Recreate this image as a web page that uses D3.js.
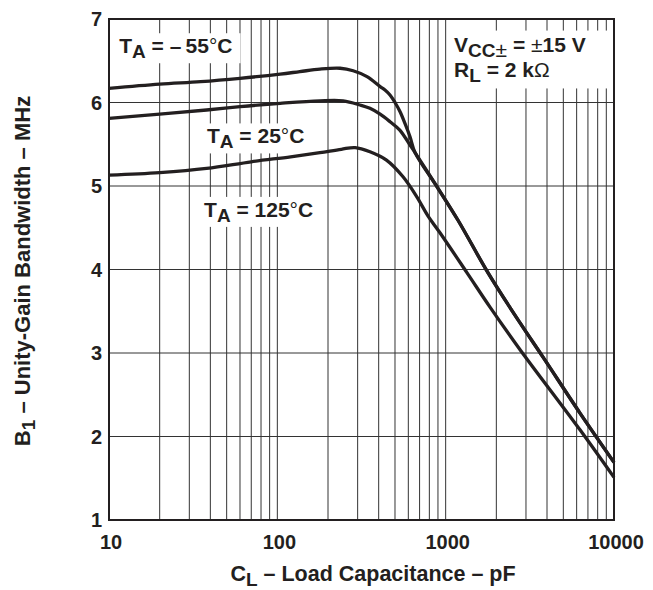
<!DOCTYPE html>
<html>
<head>
<meta charset="utf-8">
<script src="https://cdn.jsdelivr.net/npm/d3@7"></script>
<style>
  body { margin: 0; background: #fff; }
  text { font-family: "Liberation Sans", Arial, sans-serif; font-weight: bold; fill: #231f20; }
</style>
</head>
<body>
<script>
'use strict';

// load capacitance (pF) and unity-gain bandwidth (MHz)
const capM55 = [10, 20, 35, 60, 104, 136, 179, 236, 282, 341, 408, 436, 467, 500, 536, 573, 614, 658, 889, 1184, 1786, 2767, 3788, 6280, 10000];
const bwM55  = [6.17, 6.22, 6.25, 6.29, 6.34, 6.37, 6.40, 6.41, 6.38, 6.31, 6.19, 6.15, 6.09, 6.00, 5.89, 5.75, 5.59, 5.40, 4.99, 4.59, 3.96, 3.36, 2.95, 2.28, 1.69];

const cap25 = [10, 20, 38, 60, 104, 179, 246, 310, 355, 408, 467, 534, 614, 658, 889, 1184, 1786, 2767, 3788, 6280, 10000];
const bw25  = [5.81, 5.86, 5.91, 5.95, 5.99, 6.02, 6.02, 5.97, 5.93, 5.86, 5.77, 5.67, 5.49, 5.40, 4.99, 4.59, 3.96, 3.36, 2.95, 2.28, 1.69];

const cap125 = [10, 20, 38, 70, 120, 179, 240, 290, 355, 445, 558, 674, 786, 925, 1340, 1834, 2767, 6280, 10000];
const bw125  = [5.13, 5.16, 5.21, 5.29, 5.35, 5.40, 5.44, 5.46, 5.41, 5.31, 5.11, 4.87, 4.64, 4.44, 3.96, 3.55, 3.04, 2.08, 1.51];

const xTicks = [10, 100, 1000, 10000];
const yTicks = [1, 2, 3, 4, 5, 6, 7];

const width = 653, height = 590;
const margin = {top: 19, right: 39, bottom: 70, left: 109};
const ink = "#231f20";

let svg = d3.select("body").append("svg")
    .attr("width", width)
    .attr("height", height);

let x = d3.scaleLog()
    .domain([10, 10000])
    .range([margin.left, width - margin.right]);

let y = d3.scaleLinear()
    .domain([1, 7])
    .range([height - margin.bottom, margin.top]);

// grid
let grid = svg.append("g").attr("stroke", "#333").attr("stroke-width", 1);
grid.selectAll("line.v")
    .data(x.ticks().filter(d => d > 10 && d < 10000))
    .enter().append("line")
      .attr("x1", d => x(d)).attr("x2", d => x(d))
      .attr("y1", y(1)).attr("y2", y(7));
grid.selectAll("line.h")
    .data(yTicks.slice(1, -1))
    .enter().append("line")
      .attr("x1", x(10)).attr("x2", x(10000))
      .attr("y1", d => y(d)).attr("y2", d => y(d));

let boxes = svg.append("g");
let labels = svg.append("g").attr("font-size", 21);

// label at (pF, MHz), built from styled pieces
function addLabel(px, mhz, parts) {
    let t = labels.append("text").attr("x", x(px)).attr("y", y(mhz));
    parts.forEach(p => {
        let s = t.append("tspan").text(p.t);
        if (p.sub) s.attr("dy", 5).attr("font-size", 19);
        if (p.up) s.attr("dy", -5);
        if (p.normal) s.attr("font-weight", "normal");
    });
    return t;
}

let l55 = addLabel(11.5, 6.59, [{t: "T"}, {t: "A", sub: true}, {t: " = \u2013\u200955", up: true}, {t: "\u00b0", normal: true}, {t: "C"}]);
let l25 = addLabel(38.2, 5.51, [{t: "T"}, {t: "A", sub: true}, {t: " = 25", up: true}, {t: "\u00b0", normal: true}, {t: "C"}]);
let l125 = addLabel(36.7, 4.63, [{t: "T"}, {t: "A", sub: true}, {t: " = 125", up: true}, {t: "\u00b0", normal: true}, {t: "C"}]);
let lv = addLabel(1122, 6.61, [{t: "V"}, {t: "CC", sub: true}, {t: "\u00b1", normal: true}, {t: " = ", up: true}, {t: "\u00b1", normal: true}, {t: "15 V"}]);
let lr = addLabel(1122, 6.30, [{t: "R"}, {t: "L", sub: true}, {t: " = 2 k", up: true}, {t: "\u03a9", normal: true}]);

[l55, l25, l125].forEach(t => {
    let b = t.node().getBBox();
    boxes.append("rect")
        .attr("x", b.x - 8).attr("y", b.y - 1)
        .attr("width", b.width + 16).attr("height", b.height + 2)
        .attr("fill", "#fff");
});
{
    let b1 = lv.node().getBBox(), b2 = lr.node().getBBox();
    boxes.append("rect")
        .attr("x", b1.x - 5).attr("y", b1.y - 2)
        .attr("width", x(10000) - b1.x + 5).attr("height", b2.y + b2.height - b1.y + 4)
        .attr("fill", "#fff");
}

// curves
let line = d3.line()
    .x(d => x(d[0]))
    .y(d => y(d[1]))
    .curve(d3.curveCatmullRom.alpha(0.5));

let series = [
    d3.zip(capM55, bwM55),
    d3.zip(cap25, bw25),
    d3.zip(cap125, bw125)
];
svg.append("g").selectAll("path")
    .data(series)
    .enter().append("path")
      .attr("d", line)
      .attr("fill", "none")
      .attr("stroke", ink)
      .attr("stroke-width", 3.3)
      .attr("stroke-linejoin", "round");

labels.raise();

// frame
svg.append("rect")
    .attr("x", x(10)).attr("y", y(7))
    .attr("width", x(10000) - x(10)).attr("height", y(1) - y(7))
    .attr("fill", "none").attr("stroke", ink).attr("stroke-width", 2);

// tick labels
svg.append("g").attr("font-size", 20).attr("text-anchor", "end")
  .selectAll("text").data(yTicks).enter().append("text")
    .attr("x", x(10) - 7).attr("y", d => y(d)).attr("dy", "0.36em")
    .text(d => d);

svg.append("g").attr("font-size", 20).attr("text-anchor", "middle")
  .selectAll("text").data(xTicks).enter().append("text")
    .attr("x", d => x(d) + 2).attr("y", y(1) + 29)
    .text(d => d);

// axis titles
let xt = svg.append("text").attr("font-size", 21.5).attr("text-anchor", "middle")
    .attr("x", 373).attr("y", 581);
xt.append("tspan").text("C");
xt.append("tspan").attr("dy", 5).attr("font-size", 19).text("L");
xt.append("tspan").attr("dy", -5).text(" \u2013 Load Capacitance \u2013 pF");

let yt = svg.append("text").attr("font-size", 22).attr("text-anchor", "middle")
    .attr("transform", "translate(30,271) rotate(-90)");
yt.append("tspan").text("B");
yt.append("tspan").attr("dy", 5).attr("font-size", 19).text("1");
yt.append("tspan").attr("dy", -5).text(" \u2013 Unity-Gain Bandwidth \u2013 MHz");
</script>
</body>
</html>
